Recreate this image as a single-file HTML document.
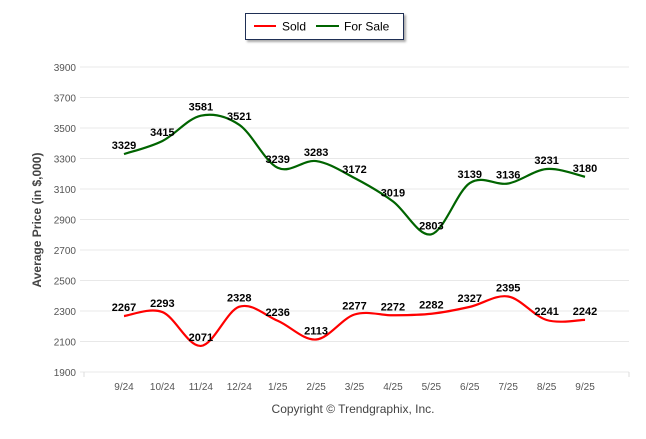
<!DOCTYPE html>
<html><head><meta charset="utf-8"><style>
body{margin:0;background:#fff;width:646px;height:434px;overflow:hidden;font-family:"Liberation Sans",Arial,sans-serif}
</style></head><body>
<svg width="646" height="434" id="c">
<g>
<rect x="245.5" y="13.5" width="158" height="26" fill="#fff" stroke="#1f2f55" stroke-width="1" style="filter:drop-shadow(2px 2px 1px #aaa)"/>
<line x1="254" y1="26" x2="276" y2="26" stroke="#f00" stroke-width="2"/>
<text x="282" y="30.5" font-size="12" fill="#000">Sold</text>
<line x1="316" y1="26" x2="339" y2="26" stroke="#006400" stroke-width="2"/>
<text x="344" y="30.5" font-size="12" fill="#000">For Sale</text>
</g>
<text transform="translate(41,220) rotate(-90)" text-anchor="middle" font-size="12" font-weight="bold" fill="#444">Average Price (in $,000)</text>
<text x="353" y="413" text-anchor="middle" font-size="12" fill="#444">Copyright © Trendgraphix, Inc.</text>
<g id="grid"></g><g id="lines"></g><g id="labels"></g>
</svg>
<script>
const categories=["9/24","10/24","11/24","12/24","1/25","2/25","3/25","4/25","5/25","6/25","7/25","8/25","9/25"];
const sold=[2267,2293,2071,2328,2236,2113,2277,2272,2282,2327,2395,2241,2242];
const forSale=[3329,3415,3581,3521,3239,3283,3172,3019,2803,3139,3136,3231,3180];
const yTicks=[1900,2100,2300,2500,2700,2900,3100,3300,3500,3700,3900];
const NS="http://www.w3.org/2000/svg";
const yS=v=>372-(v-1900)*305/2000;
const xS=i=>124+i*38.42;
function mk(t,a,p){const e=document.createElementNS(NS,t);for(const k in a)e.setAttribute(k,a[k]);p.appendChild(e);return e;}
const grid=document.getElementById('grid'),lines=document.getElementById('lines'),labels=document.getElementById('labels');
yTicks.forEach(v=>{
 const l=mk('line',{x1:80,x2:629,y1:yS(v),y2:yS(v),stroke:'#e8e8e8','stroke-width':1},grid);
 
 
 const t=mk('text',{x:76,y:yS(v)+4,'text-anchor':'end','font-size':10,fill:'#555'},grid);t.textContent=v;
 
 
});
mk('line',{x1:84,x2:84,y1:372,y2:377,stroke:'#ddd'},grid);
mk('line',{x1:629,x2:629,y1:372,y2:377,stroke:'#ddd'},grid);
categories.forEach((c,i)=>{
 const t=mk('text',{x:xS(i),y:390,'text-anchor':'middle','font-size':10,fill:'#555'},grid);t.textContent=c;
 
 
});
function path(vals){
 const p=vals.map((v,i)=>[xS(i),yS(v)]);let d='M'+p[0][0]+','+p[0][1];
 for(let i=0;i<p.length-1;i++){const p0=p[i-1]||p[i],p1=p[i],p2=p[i+1],p3=p[i+2]||p2;
  d+=' C'+(p1[0]+(p2[0]-p0[0])/6)+','+(p1[1]+(p2[1]-p0[1])/6)+' '+(p2[0]-(p3[0]-p1[0])/6)+','+(p2[1]-(p3[1]-p1[1])/6)+' '+p2[0]+','+p2[1];}
 return d;}
[[sold,'#f00','sold'],[forSale,'#006400','for-sale']].forEach(([vals,col,n])=>{
 const l=mk('path',{d:path(vals),fill:'none',stroke:col,'stroke-width':2.2},lines);
 
 
 vals.forEach((v,i)=>{
  const t=mk('text',{x:xS(i),y:yS(v)-5,'text-anchor':'middle','font-size':11,'font-weight':'bold',fill:'#000'},labels);
  t.textContent=v;
  
  
 });
});
</script>
</body></html>
